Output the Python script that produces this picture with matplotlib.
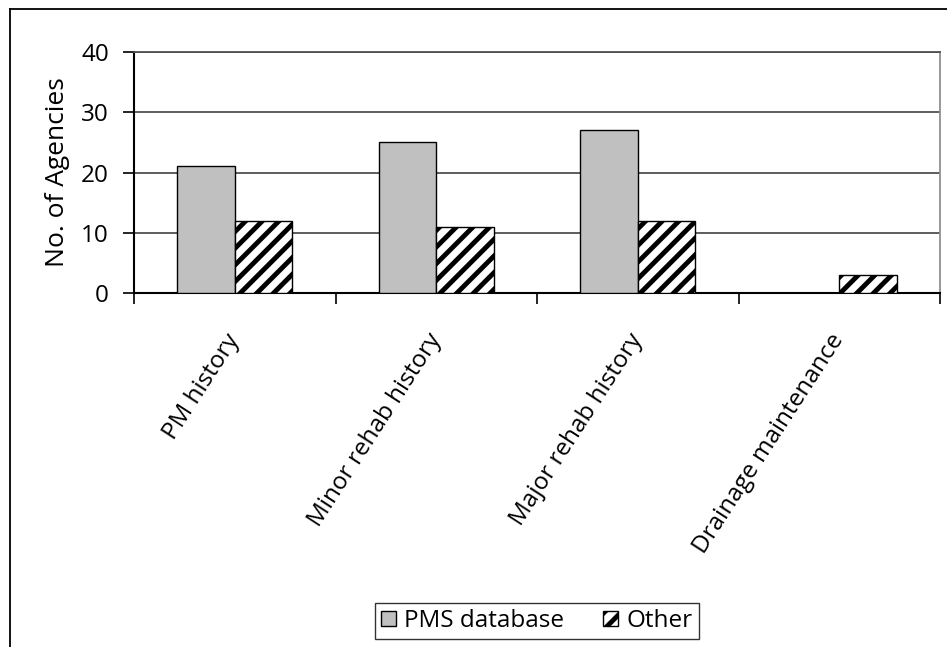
import numpy as np
import matplotlib
matplotlib.use("Agg")
import matplotlib.pyplot as plt
from matplotlib.lines import Line2D

plt.rcParams['font.family'] = ['Open Sans', 'DejaVu Sans']
plt.rcParams['hatch.linewidth'] = 3.5

categories = ["PM history", "Minor rehab history", "Major rehab history", "Drainage maintenance"]
pms_database = [21, 25, 27, 0]
other = [12, 11, 12, 3]
series_names = ["PMS database", "Other"]
yticks = [0, 10, 20, 30, 40]

fs = 17.5

fig = plt.figure(figsize=(9.47, 6.47), dpi=100)
ax = fig.add_axes([134/947, 1 - 293/647, (940-134)/947, (293-52)/647])

x = np.arange(len(categories))
w = 0.285
ax.bar(x - w/2, pms_database, w, color='#c0c0c0', edgecolor='black', linewidth=1.0,
       label=series_names[0], zorder=3)
ax.bar(x + w/2, other, w, color='white', edgecolor='black', linewidth=1.0,
       hatch='//', label=series_names[1], zorder=3)

ax.set_xlim(-0.5, len(categories) - 0.5)
ax.set_ylim(0, 40)
ax.set_yticks(yticks)
ax.tick_params(axis='y', labelsize=fs, length=8, width=1.2, direction='out', pad=10)
ax.yaxis.grid(True, color='#505050', linewidth=1.3, zorder=0)

# category labels sit between boundary ticks
ax.set_xticks(np.arange(-0.5, len(categories)), minor=False)
ax.set_xticklabels([])
ax.tick_params(axis='x', length=8, width=1.2, direction='out')
for i, lab in enumerate(categories):
    ax.annotate(lab, xy=(i, 0), xycoords=('data', 'axes fraction'),
                xytext=(0, -43), textcoords='offset pixels',
                rotation=57, ha='right', va='center', rotation_mode='anchor',
                fontsize=fs)

ax.set_ylabel("No. of Agencies", fontsize=19, labelpad=8)

for side in ['left', 'bottom']:
    ax.spines[side].set_color('black')
    ax.spines[side].set_linewidth(1.5)
ax.spines['right'].set_color('#909090')
ax.spines['right'].set_linewidth(1.3)
ax.spines['top'].set_color('#505050')
ax.spines['top'].set_linewidth(1.3)

leg = fig.legend(loc='center', bbox_to_anchor=(537/947, 1 - 621/647), ncol=2,
                 fontsize=fs, frameon=True, fancybox=False, edgecolor='black',
                 handlelength=0.6, handleheight=0.6, handletextpad=0.35,
                 columnspacing=1.6, borderpad=0.25, borderaxespad=0.3)
leg.get_frame().set_linewidth(1.0)

# outer chart border (top and left edges visible)
fig.add_artist(Line2D([10/947, 1], [1 - 9/647, 1 - 9/647], transform=fig.transFigure,
                      color='black', linewidth=1.3))
fig.add_artist(Line2D([10/947, 10/947], [0, 1 - 9/647], transform=fig.transFigure,
                      color='black', linewidth=1.3))

fig.savefig("out.png", dpi=100)
